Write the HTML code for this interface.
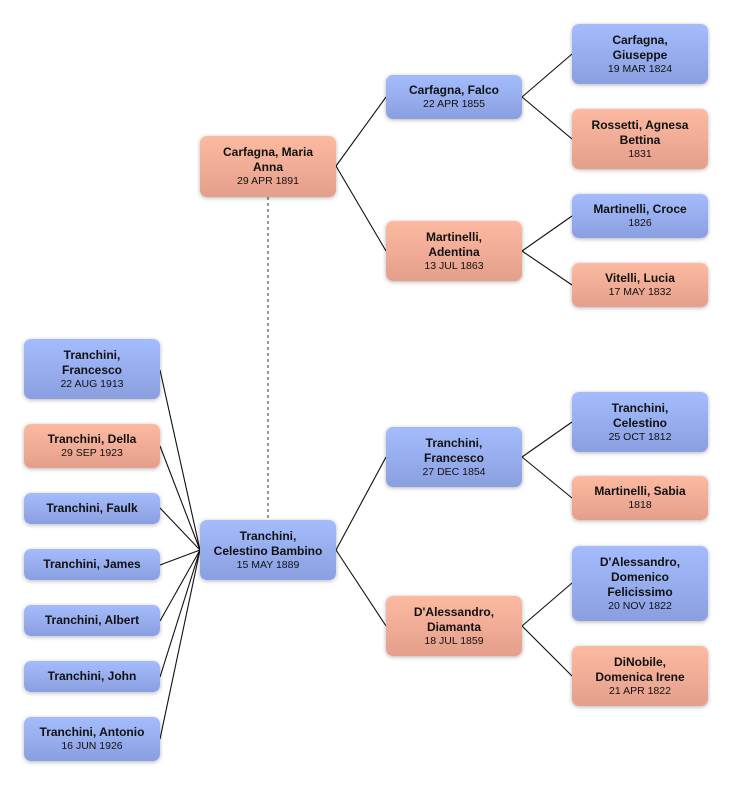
<!DOCTYPE html>
<html><head><meta charset="utf-8"><style>
body{margin:0;width:732px;height:786px;background:#fff;position:relative;overflow:hidden;font-family:"Liberation Sans",sans-serif}
.b{position:absolute;width:136px;border-radius:7px;box-shadow:0 1px 4px rgba(0,0,0,.3);display:flex;flex-direction:column;justify-content:center;align-items:center;text-align:center;color:#111;box-sizing:border-box;padding:0 2px;white-space:nowrap}
.m{background:linear-gradient(#a4bcfd,#8a9fe0)}
.f{background:linear-gradient(#fdbaa1,#e49f8c)}
.n{font-weight:bold;font-size:12px;line-height:15px}
.d{font-size:10.5px;line-height:13px}
svg{position:absolute;left:0;top:0}
</style></head><body>
<svg width="732" height="786" stroke="#111" stroke-width="1.1" fill="none">
<line x1="268" y1="197" x2="268" y2="520" stroke="#777" stroke-dasharray="3,3" stroke-width="1.5"/>
<line x1="336" y1="166" x2="386" y2="97"/><line x1="336" y1="166" x2="386" y2="251"/>
<line x1="522" y1="97" x2="572" y2="54"/><line x1="522" y1="97" x2="572" y2="139"/>
<line x1="522" y1="251" x2="572" y2="216"/><line x1="522" y1="251" x2="572" y2="285"/>
<line x1="336" y1="550" x2="386" y2="457"/><line x1="336" y1="550" x2="386" y2="626"/>
<line x1="522" y1="457" x2="572" y2="422"/><line x1="522" y1="457" x2="572" y2="498"/>
<line x1="522" y1="626" x2="572" y2="583"/><line x1="522" y1="626" x2="572" y2="676"/>
<line x1="160" y1="370" x2="200" y2="550"/><line x1="160" y1="446" x2="200" y2="550"/>
<line x1="160" y1="508" x2="200" y2="550"/><line x1="160" y1="565" x2="200" y2="550"/>
<line x1="160" y1="621" x2="200" y2="550"/><line x1="160" y1="677" x2="200" y2="550"/>
<line x1="160" y1="739" x2="200" y2="550"/>
</svg>
<div class="b f" style="left:200px;top:136px;height:61px"><div class="n">Carfagna, Maria<br>Anna</div><div class="d">29 APR 1891</div></div>
<div class="b m" style="left:386px;top:75px;height:44px"><div class="n">Carfagna, Falco</div><div class="d">22 APR 1855</div></div>
<div class="b f" style="left:386px;top:221px;height:60px"><div class="n">Martinelli,<br>Adentina</div><div class="d">13 JUL 1863</div></div>
<div class="b m" style="left:572px;top:24px;height:60px"><div class="n">Carfagna,<br>Giuseppe</div><div class="d">19 MAR 1824</div></div>
<div class="b f" style="left:572px;top:109px;height:60px"><div class="n">Rossetti, Agnesa<br>Bettina</div><div class="d">1831</div></div>
<div class="b m" style="left:572px;top:194px;height:44px"><div class="n">Martinelli, Croce</div><div class="d">1826</div></div>
<div class="b f" style="left:572px;top:263px;height:44px"><div class="n">Vitelli, Lucia</div><div class="d">17 MAY 1832</div></div>
<div class="b m" style="left:386px;top:427px;height:60px"><div class="n">Tranchini,<br>Francesco</div><div class="d">27 DEC 1854</div></div>
<div class="b f" style="left:386px;top:596px;height:60px"><div class="n">D'Alessandro,<br>Diamanta</div><div class="d">18 JUL 1859</div></div>
<div class="b m" style="left:572px;top:392px;height:60px"><div class="n">Tranchini,<br>Celestino</div><div class="d">25 OCT 1812</div></div>
<div class="b f" style="left:572px;top:476px;height:44px"><div class="n">Martinelli, Sabia</div><div class="d">1818</div></div>
<div class="b m" style="left:572px;top:546px;height:75px"><div class="n">D'Alessandro,<br>Domenico<br>Felicissimo</div><div class="d">20 NOV 1822</div></div>
<div class="b f" style="left:572px;top:646px;height:60px"><div class="n">DiNobile,<br>Domenica Irene</div><div class="d">21 APR 1822</div></div>
<div class="b m" style="left:200px;top:520px;height:60px"><div class="n">Tranchini,<br>Celestino Bambino</div><div class="d">15 MAY 1889</div></div>
<div class="b m" style="left:24px;top:339px;height:60px"><div class="n">Tranchini,<br>Francesco</div><div class="d">22 AUG 1913</div></div>
<div class="b f" style="left:24px;top:424px;height:44px"><div class="n">Tranchini, Della</div><div class="d">29 SEP 1923</div></div>
<div class="b m" style="left:24px;top:493px;height:31px"><div class="n">Tranchini, Faulk</div></div>
<div class="b m" style="left:24px;top:549px;height:31px"><div class="n">Tranchini, James</div></div>
<div class="b m" style="left:24px;top:605px;height:31px"><div class="n">Tranchini, Albert</div></div>
<div class="b m" style="left:24px;top:661px;height:31px"><div class="n">Tranchini, John</div></div>
<div class="b m" style="left:24px;top:717px;height:44px"><div class="n">Tranchini, Antonio</div><div class="d">16 JUN 1926</div></div>
</body></html>
